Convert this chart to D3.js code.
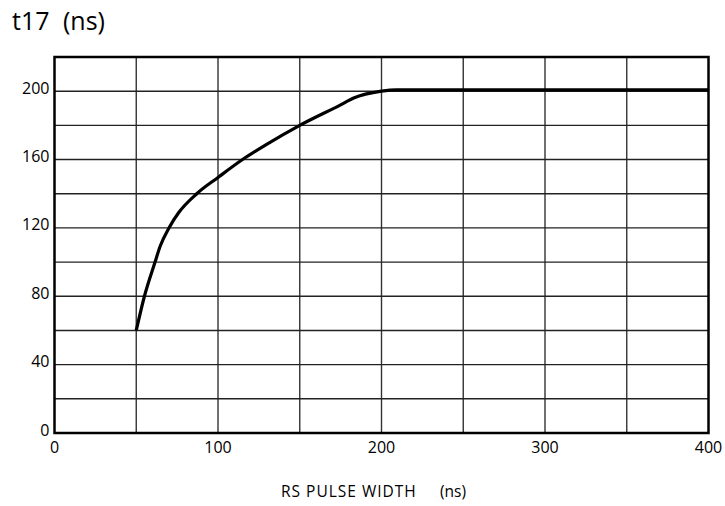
<!DOCTYPE html>
<html>
<head>
<meta charset="utf-8">
<script src="https://cdn.jsdelivr.net/npm/d3@7"></script>
<style>
  body { margin: 0; background: #fff; }
  text { font-family: "Open Sans", sans-serif; fill: #000; }
</style>
</head>
<body>
<div id="chart-area"></div>
<script>
// curve: RS pulse width (ns) -> t17 (ns)
const pulseWidth = [50, 55, 61.5, 64.5, 70, 76, 87, 100, 115, 130, 150, 175, 183, 200, 209, 400];
const t17 = [60, 80, 100, 109, 120, 129, 140, 149.5, 160, 169, 180, 192, 196, 200, 200.8, 200.8];

const xTicks = [0, 100, 200, 300, 400];
const yTicks = [0, 40, 80, 120, 160, 200];
const xGrid = d3.range(50, 400, 50);
const yGrid = d3.range(20, 220, 20);

const svgWidth = 725,
      svgHeight = 506;
const margin = {left: 54.5, right: 16.5, top: 57, bottom: 73};
const areaWidth = svgWidth - margin.left - margin.right;
const areaHeight = svgHeight - margin.top - margin.bottom;

const svg = d3.select("#chart-area")
  .append("svg")
  .attr("width", svgWidth)
  .attr("height", svgHeight);

const area = svg.append("g")
  .attr("transform", `translate(${margin.left}, ${margin.top})`);

const x = d3.scaleLinear().domain([0, 400]).range([0, areaWidth]);
const y = d3.scaleLinear().domain([0, 220]).range([areaHeight, 0]);

// grid
area.selectAll(".vgrid").data(xGrid).enter().append("line")
  .attr("x1", d => x(d)).attr("x2", d => x(d))
  .attr("y1", 0).attr("y2", areaHeight)
  .attr("stroke", "#333").attr("stroke-width", 1.4);

area.selectAll(".hgrid").data(yGrid).enter().append("line")
  .attr("x1", 0).attr("x2", areaWidth)
  .attr("y1", d => y(d)).attr("y2", d => y(d))
  .attr("stroke", "#222").attr("stroke-width", 1.4);

// frame
area.append("rect")
  .attr("width", areaWidth).attr("height", areaHeight)
  .attr("fill", "none").attr("stroke", "#000").attr("stroke-width", 2.5);

// tick labels
area.selectAll(".ylab").data(yTicks).enter().append("text")
  .attr("x", -5)
  .attr("y", d => y(d) + 2.5)
  .attr("text-anchor", "end")
  .attr("font-size", "16px")
  .text(d => d);

area.selectAll(".xlab").data(xTicks).enter().append("text")
  .attr("x", d => x(d))
  .attr("y", areaHeight + 20)
  .attr("text-anchor", "middle")
  .attr("font-size", "16px")
  .text(d => d);

// curve
const pts = pulseWidth.map((d, i) => [d, t17[i]]);
area.append("path")
  .datum(pts)
  .attr("fill", "none")
  .attr("stroke", "#000")
  .attr("stroke-width", 3.2)
  .attr("stroke-linejoin", "round")
  .attr("d", d3.line().x(d => x(d[0])).y(d => y(d[1])).curve(d3.curveMonotoneX));

// titles
svg.append("text")
  .attr("x", 12)
  .attr("y", 30)
  .attr("font-size", "25px")
  .text("t17");

svg.append("text")
  .attr("x", 63)
  .attr("y", 30)
  .attr("font-size", "25px")
  .text("(ns)");

svg.append("text")
  .attr("x", 281)
  .attr("y", 497)
  .attr("font-size", "15.5px")
  .attr("letter-spacing", "1px")
  .text("RS PULSE WIDTH");

svg.append("text")
  .attr("x", 440)
  .attr("y", 497)
  .attr("font-size", "15.5px")
  .text("(ns)");
</script>
</body>
</html>
